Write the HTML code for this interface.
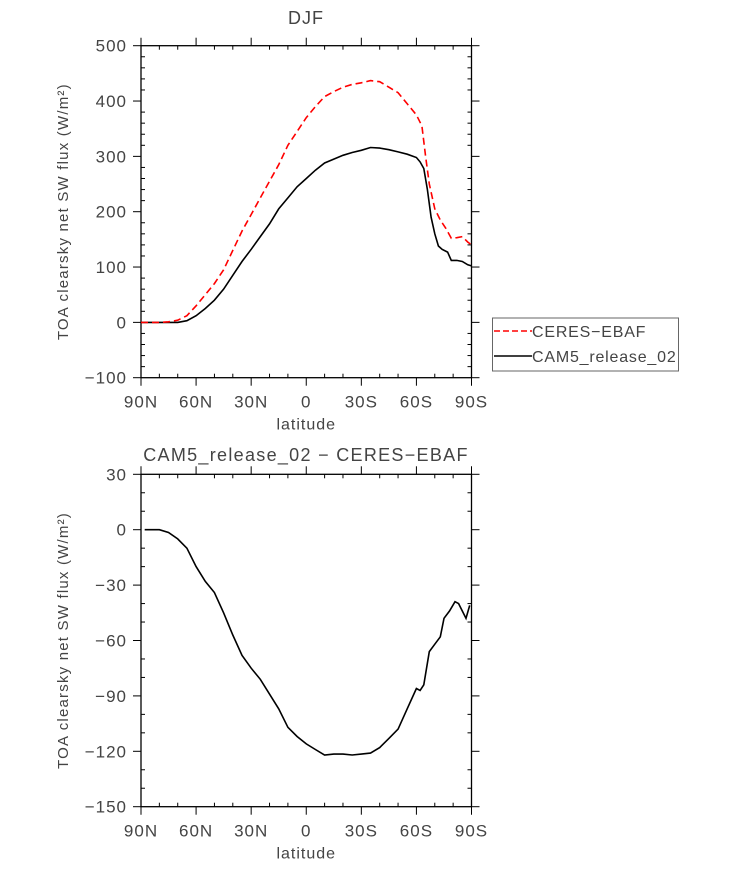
<!DOCTYPE html>
<html><head><meta charset="utf-8"><style>
body{margin:0;background:#fff;}
svg text{font-family:"Liberation Sans",sans-serif;fill:#444;}
</style></head><body>
<svg id="c" width="733" height="866" xmlns="http://www.w3.org/2000/svg"></svg>
<script>
const ceresLat=[-90,-80,-75,-70,-65,-60,-55,-50,-45,-40,-35,-30,-25,-20,-15,-10,-5,0,5,10,15,20,25,30,35,40,45,50,55,60,63,65,67,70,73,76,79,82,85,88,90];
const ceresVal=[0,0,1,4,12,30,50,70,95,130,165,195,225,255,285,320,345,370,390,408,417,425,430,433,437,435,425,415,395,375,355,300,250,205,185,170,152,153,155,145,140];
const camLat=[-90,-70,-65,-60,-55,-50,-45,-40,-35,-30,-25,-20,-15,-10,-5,0,5,10,15,20,25,30,35,40,45,50,55,60,62,64,66,68,70,72,74,77,79,82,85,88,90];
const camVal=[0,0,3,12,25,40,60,85,110,132,155,178,205,225,245,260,275,288,295,302,307,311,316,315,312,308,304,298,290,278,240,190,160,138,132,127,112,112,110,104,102];
const diffLat=[-88,-80,-75,-70,-65,-60,-55,-50,-45,-40,-35,-30,-25,-20,-15,-10,-5,0,5,10,15,20,25,30,35,40,45,50,55,60,62,64,67,70,73,75,78,81,83,87,89];
const diffVal=[0,0,-1.5,-5,-10,-20,-28,-34,-45,-57,-68,-75,-81,-89,-97,-107,-112,-116,-119,-122,-121.5,-121.5,-122,-121.5,-121,-118,-113,-108,-97,-86,-87,-84,-66,-62,-58,-48,-44,-39,-40,-48,-41];
const xTicks=[-90,-60,-30,0,30,60,90];
const xTickLabels=["90N","60N","30N","0","30S","60S","90S"];
const topTicks=[-100,0,100,200,300,400,500];
const botTicks=[-150,-120,-90,-60,-30,0,30];

const svg=document.getElementById('c');
const NS="http://www.w3.org/2000/svg";
function mk(t,a,txt){const e=document.createElementNS(NS,t);for(const k in a)e.setAttribute(k,a[k]);if(txt!==undefined)e.textContent=txt;svg.appendChild(e);return e;}
const X0=141,X1=471.5;
function xs(l){return X0+(l+90)/180*(X1-X0);}
function panel(top,bot,ymin,ymax,yt,minorStep,name){
  const ys=v=>bot-(v-ymin)/(ymax-ymin)*(bot-top);
  const r=mk('rect',{x:X0,y:top,width:X1-X0,height:bot-top,fill:'none',stroke:'#000','stroke-width':1.3});
  
  for(let l=-90;l<=90;l+=10){const x=xs(l);const maj=(l%30===0);
    mk('line',{x1:x,x2:x,y1:top-(maj?8:0),y2:top+(maj?0:4),stroke:'#000','stroke-width':1});
    mk('line',{x1:x,x2:x,y1:bot+(maj?8:0),y2:bot-(maj?0:4),stroke:'#000','stroke-width':1});}
  xTicks.forEach((l,i)=>{const t=mk('text',{x:xs(l),y:bot+30,'text-anchor':'middle','font-size':17,'letter-spacing':1},xTickLabels[i]);
    });
  for(let v=ymin;v<=ymax+1e-9;v+=minorStep){const y=ys(v);const maj=yt.some(q=>Math.abs(q-v)<1e-6);
    mk('line',{x1:X0-(maj?8:0),x2:X0+(maj?0:4),y1:y,y2:y,stroke:'#000','stroke-width':1});
    mk('line',{x1:X1+(maj?8:0),x2:X1-(maj?0:4),y1:y,y2:y,stroke:'#000','stroke-width':1});}
  yt.forEach(v=>{const t=mk('text',{x:X0-14,y:ys(v)+6,'text-anchor':'end','font-size':17,'letter-spacing':1},v<0?'\u2212'+(-v):String(v));
    });
  const xl=mk('text',{x:(X0+X1)/2,y:bot+52,'text-anchor':'middle','font-size':16,'letter-spacing':1},'latitude');
  
  const cy=(top+bot)/2;
  const yl=mk('text',{x:68,y:cy,'text-anchor':'middle','font-size':15,'letter-spacing':1.2,transform:`rotate(-90 68 ${cy})`},'TOA clearsky net SW flux (W/m\u00b2)');
  
  return ys;
}
function line(lats,vals,ys,stroke,dash,name){
  const d=lats.map((l,i)=>(i?'L':'M')+xs(l).toFixed(1)+' '+ys(vals[i]).toFixed(1)).join(' ');
  const p=mk('path',{d:d,fill:'none',stroke:stroke,'stroke-width':1.6,'stroke-dasharray':dash||'none'});
  
}
const ys1=panel(45.7,377.7,-100,500,topTicks,20,'top-panel');
line(camLat,camVal,ys1,'#000',null,'cam5-line');
line(ceresLat,ceresVal,ys1,'#f00','7 4','ceres-line');
const ys2=panel(474.3,806.7,-150,30,botTicks,10,'bottom-panel');
line(diffLat,diffVal,ys2,'#000',null,'difference-line');
let t=mk('text',{x:306,y:24,'text-anchor':'middle','font-size':18,'letter-spacing':1},'DJF');

t=mk('text',{x:306,y:461,'text-anchor':'middle','font-size':18,'letter-spacing':1.3},'CAM5_release_02 \u2212 CERES\u2212EBAF');

const lg=mk('rect',{x:492.5,y:318,width:186,height:53,fill:'#fff',stroke:'#666','stroke-width':1});

let l=mk('line',{x1:494,x2:532,y1:331,y2:331,stroke:'#f00','stroke-width':1.5,'stroke-dasharray':'6 3'});

t=mk('text',{x:532,y:337,'font-size':16,'letter-spacing':0.8},'CERES\u2212EBAF');

l=mk('line',{x1:494,x2:532,y1:356,y2:356,stroke:'#000','stroke-width':1.5});

t=mk('text',{x:532,y:362,'font-size':16,'letter-spacing':0.8},'CAM5_release_02');

</script>
</body></html>
